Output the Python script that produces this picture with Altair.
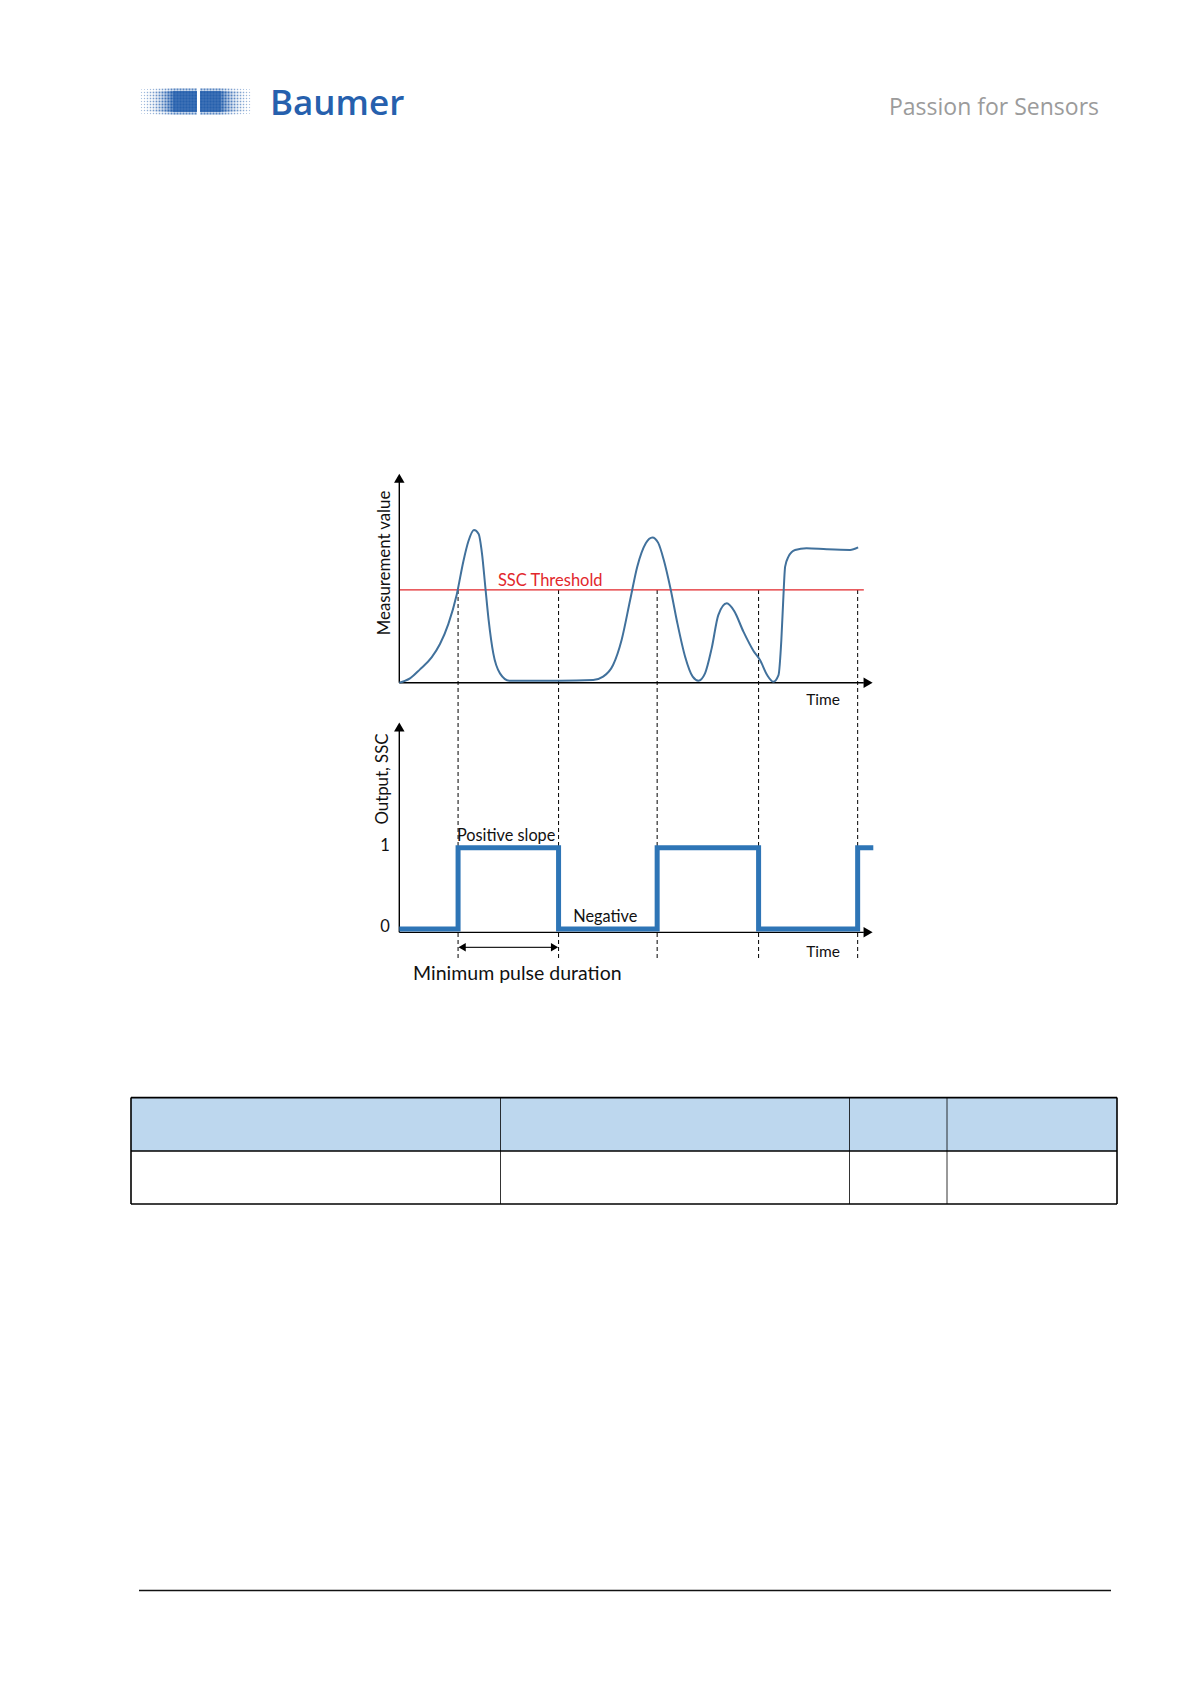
import altair as alt
import pandas as pd

W, H = 1175, 1650

# ---------------- data ----------------
# measurement curve: time (0..100 = axis arrow tip) and value (0..100 = y arrow tip)
curve_t = [0, 2.25, 4.36, 6.82, 8.58, 10.34, 12.10, 13.50, 14.56, 15.75, 16.74, 17.44,
           18.14, 18.85, 19.83, 21.24, 23.21, 33.9, 40.9, 43.0, 45.1, 46.9, 48.7, 50.2,
           52.0, 53.4, 54.6, 55.8, 57.2, 58.6, 60.3, 61.9, 63.1, 64.5, 65.9, 67.3, 69.1,
           70.6, 72.6, 74.7, 76.1, 77.6, 78.9, 80.0, 80.6, 81.0, 81.4, 82.1, 83.5, 85.9,
           90.2, 95.1, 96.8]
curve_v = [0, 2.07, 6.37, 12.1, 18.5, 28.0, 41.9, 57.8, 67.4, 72.9, 71.0, 61.8,
           45.9, 29.9, 14.0, 4.46, 0.96, 0.96, 1.27, 2.87, 8.44, 20.4, 39.5, 55.4,
           66.6, 69.4, 66.9, 58.6, 45.1, 29.1, 12.4, 2.87, 0.96, 4.46, 16.4, 32.3, 37.9,
           34.4, 24.4, 15.3, 10.8, 3.66, 0.48, 3.66, 20.4, 39.5, 55.4, 60.2, 63.4, 64.2,
           63.7, 63.4, 64.6]
threshold_value = 44.3
threshold_end_t = 98.0
switch_t = [12.4, 33.6, 54.4, 75.8, 96.7]
step_t = [0, 12.4, 33.6, 54.4, 75.8, 96.7, 100]
step_out = [0, 1, 0, 1, 0, 1, 1]
out_ticks = ["0", "1"]
out_tick_vals = [0, 1]

# table layout (page px)
table_cols = [131, 500.5, 849.5, 947, 1117]
table_rows = [1097.6, 1151, 1204]

# ---------------- scales ----------------
TX = alt.Scale(domain=[0, 100], range=[391.3, 865.3], nice=False, zero=False)
MY = alt.Scale(domain=[0, 100], range=[674.7, 465.3], nice=False, zero=False)
OY = alt.Scale(domain=[0, 1], range=[921.0, 839.7], nice=False, zero=False)
PX = alt.Scale(domain=[8, 8 + W], range=[0, W], nice=False, zero=False)
PY = alt.Scale(domain=[8, 8 + H], range=[0, H], nice=False, zero=False)

def X(f, s): return alt.X(f, type="quantitative", scale=s, axis=None)
def Y(f, s): return alt.Y(f, type="quantitative", scale=s, axis=None)
def X2(f): return alt.X2(f)
def Y2(f): return alt.Y2(f)

layers = []

# ---------- table ----------
hdr = pd.DataFrame({"x": [table_cols[0]], "x2": [table_cols[-1]],
                    "y": [table_rows[0]], "y2": [table_rows[1]]})
layers.append(alt.Chart(hdr).mark_rect(color="#bdd7ee").encode(
    x=X("x", PX), x2=X2("x2"), y=Y("y", PY), y2=Y2("y2")))
hl = pd.DataFrame({"x": [table_cols[0]] * 3, "x2": [table_cols[-1]] * 3, "y": table_rows})
layers.append(alt.Chart(hl).mark_rule(color="#000", strokeWidth=1.6).encode(
    x=X("x", PX), x2=X2("x2"), y=Y("y", PY)))
vo = pd.DataFrame({"x": [table_cols[0], table_cols[-1]], "y": [table_rows[0]] * 2,
                   "y2": [table_rows[-1]] * 2})
layers.append(alt.Chart(vo).mark_rule(color="#000", strokeWidth=1.6).encode(
    x=X("x", PX), y=Y("y", PY), y2=Y2("y2")))
vi = pd.DataFrame({"x": table_cols[1:-1], "y": [table_rows[0]] * 3, "y2": [table_rows[-1]] * 3})
layers.append(alt.Chart(vi).mark_rule(color="#000", strokeWidth=0.8).encode(
    x=X("x", PX), y=Y("y", PY), y2=Y2("y2")))

# ---------- footer line ----------
ft = pd.DataFrame({"x": [139], "x2": [1111], "y": [1590.5]})
layers.append(alt.Chart(ft).mark_rule(color="#111", strokeWidth=1.4).encode(
    x=X("x", PX), x2=X2("x2"), y=Y("y", PY)))

# ---------- logo dots ----------
dots = []
for i in range(37):
    x = 141.5 + 3 * i
    if 196 < x < 199.5:
        continue
    if 172 <= x <= 222:
        side, op = 2.9, 1.0
    elif x < 172:
        f = (x - 140) / (172 - 140)
        side, op = 1.0 + 1.7 * f, 0.35 + 0.65 * f
    else:
        f = (252 - x) / (252 - 222)
        side, op = 1.0 + 1.7 * f, 0.35 + 0.65 * f
    for j in range(9):
        y = 89.5 + 3 * j
        edge = 1.0 if 1 <= j <= 7 else 0.75
        dots.append({"x": x, "y": y, "s": (side * edge) ** 2, "o": op * edge})
layers.append(alt.Chart(pd.DataFrame(dots)).mark_square(color="#2660ad", filled=True).encode(
    x=X("x", PX), y=Y("y", PY),
    size=alt.Size("s:Q", scale=None, legend=None),
    opacity=alt.Opacity("o:Q", scale=None, legend=None)))

# ---------- header texts ----------
layers.append(alt.Chart(pd.DataFrame({"x": [270], "y": [115], "t": ["Baumer"]})).mark_text(
    font="Open Sans", fontSize=35, fontWeight=600, color="#2660ad", align="left",
    baseline="alphabetic").encode(
    x=X("x", PX), y=Y("y", PY), text="t:N"))
layers.append(alt.Chart(pd.DataFrame({"x": [1099], "y": [115], "t": ["Passion for Sensors"]})).mark_text(
    font="Open Sans", fontSize=23, color="#9b9b9b", align="right", baseline="alphabetic").encode(
    x=X("x", PX), y=Y("y", PY), text="t:N"))

# ---------- dashed switch lines ----------
dl = pd.DataFrame({"t": switch_t, "y": [590] * 5, "y2": [960] * 5})
layers.append(alt.Chart(dl).mark_rule(color="#000", strokeWidth=1, strokeDash=[4, 3]).encode(
    x=X("t", TX), y=Y("y", PY), y2=Y2("y2")))

# ---------- threshold ----------
th = pd.DataFrame({"t": [0], "t2": [threshold_end_t], "v": [threshold_value]})
layers.append(alt.Chart(th).mark_rule(color="#e2262b", strokeWidth=1.2).encode(
    x=X("t", TX), x2=X2("t2"), y=Y("v", MY)))

# ---------- axes (top) ----------
ax1 = pd.DataFrame({"t": [0], "v": [0], "v2": [96]})
layers.append(alt.Chart(ax1).mark_rule(color="#000", strokeWidth=1.4).encode(
    x=X("t", TX), y=Y("v", MY), y2=Y2("v2")))
ax2 = pd.DataFrame({"t": [0], "t2": [98], "v": [0]})
layers.append(alt.Chart(ax2).mark_rule(color="#000", strokeWidth=1.4).encode(
    x=X("t", TX), x2=X2("t2"), y=Y("v", MY)))
ar1 = pd.DataFrame({"t": [0, 98.9], "v": [97.6, 0], "s": ["triangle-up", "triangle-right"]})
layers.append(alt.Chart(ar1).mark_point(filled=True, color="#000", opacity=1, size=110).encode(
    x=X("t", TX), y=Y("v", MY), shape=alt.Shape("s:N", scale=None, legend=None)))

# ---------- axes (bottom) ----------
ax3 = pd.DataFrame({"t": [0], "o": [-0.041], "o2": [2.45]})
layers.append(alt.Chart(ax3).mark_rule(color="#000", strokeWidth=1.4).encode(
    x=X("t", TX), y=Y("o", OY), y2=Y2("o2")))
ax4 = pd.DataFrame({"t": [0], "t2": [98], "o": [-0.041]})
layers.append(alt.Chart(ax4).mark_rule(color="#000", strokeWidth=1.4).encode(
    x=X("t", TX), x2=X2("t2"), y=Y("o", OY)))
ar2 = pd.DataFrame({"t": [0, 98.9], "o": [2.485, -0.041], "s": ["triangle-up", "triangle-right"]})
layers.append(alt.Chart(ar2).mark_point(filled=True, color="#000", opacity=1, size=110).encode(
    x=X("t", TX), y=Y("o", OY), shape=alt.Shape("s:N", scale=None, legend=None)))

# ---------- measurement curve ----------
cv = pd.DataFrame({"t": curve_t, "v": curve_v})
layers.append(alt.Chart(cv).mark_line(color="#41719c", strokeWidth=2, interpolate="monotone").encode(
    x=X("t", TX), y=Y("v", MY), order="t:Q"))

# ---------- output step ----------
st = pd.DataFrame({"t": step_t, "o": step_out})
layers.append(alt.Chart(st).mark_line(color="#2e75b6", strokeWidth=5, interpolate="step-after",
                                      strokeJoin="miter").encode(
    x=X("t", TX), y=Y("o", OY), order="t:Q"))

# ---------- double arrow (minimum pulse duration) ----------
da = pd.DataFrame({"t": [13.0], "t2": [33.0], "y": [947.3]})
layers.append(alt.Chart(da).mark_rule(color="#222", strokeWidth=1.2).encode(
    x=X("t", TX), x2=X2("t2"), y=Y("y", PY)))
dah = pd.DataFrame({"t": [13.25, 32.75], "y": [947.3, 947.3], "s": ["triangle-left", "triangle-right"]})
layers.append(alt.Chart(dah).mark_point(filled=True, color="#000", opacity=1, size=70).encode(
    x=X("t", TX), y=Y("y", PY), shape=alt.Shape("s:N", scale=None, legend=None)))

# ---------- chart texts ----------
txt = pd.DataFrame({"t": [20.8], "y": [585.5], "s": ["SSC Threshold"]})
layers.append(alt.Chart(txt).mark_text(font="Lato", fontSize=16.5, color="#e2262b", align="left",
                                       baseline="alphabetic").encode(
    x=X("t", TX), y=Y("y", PY), text="s:N"))

left_txt = pd.DataFrame({
    "t": [12.17, 36.7],
    "y": [841, 921.5],
    "s": ["Positive slope", "Negative"]})
layers.append(alt.Chart(left_txt).mark_text(font="Lato", fontSize=16.3, color="#111", align="left",
                                            baseline="alphabetic").encode(
    x=X("t", TX), y=Y("y", PY), text="s:N"))

time_txt = pd.DataFrame({"t": [89.4, 89.4], "y": [705, 957], "s": ["Time", "Time"]})
layers.append(alt.Chart(time_txt).mark_text(font="Lato", fontSize=15.5, color="#111", align="center",
                                            baseline="alphabetic").encode(
    x=X("t", TX), y=Y("y", PY), text="s:N"))

tick_txt = pd.DataFrame({"t": [-3.0, -3.0], "o": out_tick_vals, "s": out_ticks})
layers.append(alt.Chart(tick_txt).mark_text(font="Lato", fontSize=16.5, color="#111", align="center",
                                            baseline="middle", dy=-2).encode(
    x=X("t", TX), y=Y("o", OY), text="s:N"))

min_txt = pd.DataFrame({"t": [2.9], "y": [980], "s": ["Minimum pulse duration"]})
layers.append(alt.Chart(min_txt).mark_text(font="Lato", fontSize=19.5, color="#111", align="left",
                                           baseline="alphabetic").encode(
    x=X("t", TX), y=Y("y", PY), text="s:N"))

rot_txt = pd.DataFrame({"t": [-3.0, -3.4], "y": [563, 779], "s": ["Measurement value", "Output, SSC"]})
layers.append(alt.Chart(rot_txt).mark_text(font="Lato", fontSize=16.8, color="#111", align="center",
                                           baseline="middle", angle=270).encode(
    x=X("t", TX), y=Y("y", PY), text="s:N"))

chart = alt.layer(*layers).resolve_scale(
    x="independent", y="independent", size="independent", opacity="independent", shape="independent"
).properties(
    width=W, height=H, padding=0,
    autosize=alt.AutoSizeParams(type="fit", contains="padding"),
    background="white",
).configure_view(stroke=None)

chart.save("out.html", embed_options={"renderer": "svg", "actions": False})
